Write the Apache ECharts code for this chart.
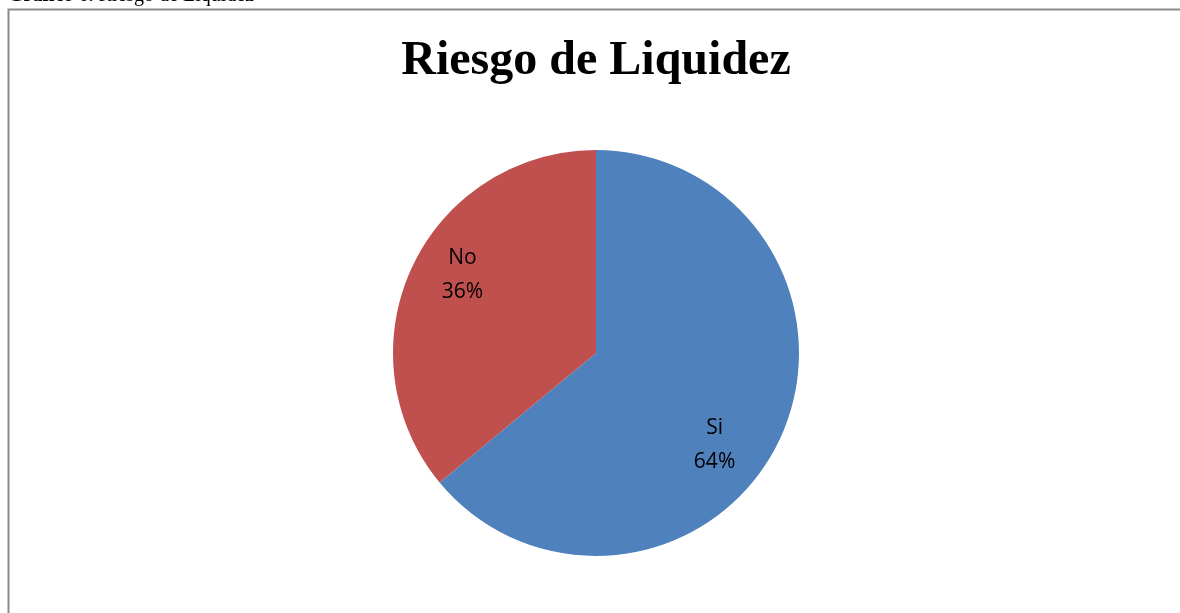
<!DOCTYPE html>
<html>
<head>
<meta charset="utf-8">
<script src="https://cdn.jsdelivr.net/npm/echarts@6/dist/echarts.min.js"></script>
<style>
  html, body { margin: 0; padding: 0; background: #ffffff; }
  #chart { width: 1180px; height: 613px; }
</style>
</head>
<body>
<div id="chart"></div>
<script>
// pie data
var categories = ['Si', 'No'];
var values = [64, 36];
var sliceColors = ['#4F81BD', '#C0504D'];
// label nudge from the default inside spot (Excel puts them further out)
var labelShift = [[24, 48], [-39, -33]];

var chart = echarts.init(document.getElementById('chart'));

var pieData = [];
for (var i = 0; i < categories.length; i++) {
  pieData.push({
    name: categories[i],
    value: values[i],
    itemStyle: { color: sliceColors[i] }
  });
}

var option = {
  animation: false,
  title: {
    text: 'Riesgo de Liquidez',
    left: 591,
    textAlign: 'center',
    top: 33,
    textStyle: {
      fontFamily: 'Liberation Serif',
      fontWeight: 'bold',
      fontSize: 48,
      color: '#000000'
    }
  },
  graphic: [
    {
      type: 'rect',
      shape: { x: 8.5, y: 9.5, width: 1300, height: 800 },
      style: { fill: null, stroke: '#8c8c8c', lineWidth: 2 }
    },
    {
      type: 'text',
      style: {
        x: 8,
        y: 6,
        verticalAlign: 'bottom',
        text: '{b|Gráfico 6.} Riesgo de Liquidez',
        fontFamily: 'Liberation Serif',
        fontSize: 20,
        fill: '#000',
        rich: {
          b: { fontFamily: 'Liberation Serif', fontSize: 20, fontWeight: 'bold' }
        }
      }
    }
  ],
  series: [{
    type: 'pie',
    center: [596, 353],
    radius: 203,
    startAngle: 90,
    clockwise: true,
    data: pieData,
    itemStyle: { borderWidth: 0 },
    label: {
      position: 'inside',
      formatter: '{b}\n{d}%',
      fontFamily: 'Open Sans',
      fontSize: 21,
      lineHeight: 34,
      color: '#000000'
    },
    labelLine: { show: false },
    labelLayout: function (params) {
      var s = labelShift[params.dataIndex];
      return { dx: s[0], dy: s[1] };
    },
    emphasis: { disabled: true }
  }]
};

chart.setOption(option);
window.addEventListener('resize', function () {
  chart.resize();
});
</script>
</body>
</html>
